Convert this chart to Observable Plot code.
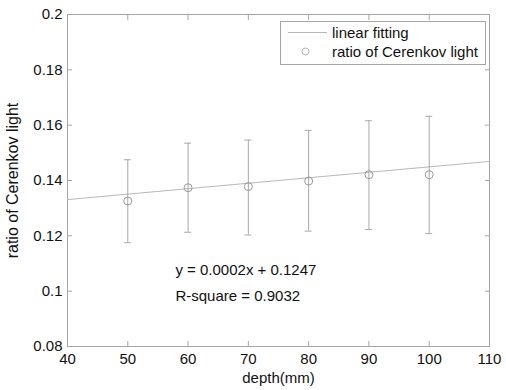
<!DOCTYPE html>
<html>
<head>
<meta charset="utf-8">
<script src="https://cdn.jsdelivr.net/npm/d3@7"></script>
<script src="https://cdn.jsdelivr.net/npm/@observablehq/plot@0.6"></script>
<style>
  html, body { margin: 0; padding: 0; background: #fff; }
  #wrap { position: relative; width: 506px; height: 390px; }
  #legend { position: absolute; left: 0; top: 0; pointer-events: none; }
</style>
</head>
<body>
<div id="wrap"></div>
<script>
// data
const depth = [50, 60, 70, 80, 90, 100];
const ratio = [0.1326, 0.1374, 0.1378, 0.1398, 0.1421, 0.1421];
const errLow = [0.1175, 0.1213, 0.1203, 0.1217, 0.1223, 0.1208];
const errHigh = [0.1475, 0.1535, 0.1546, 0.1581, 0.1616, 0.1632];
const fitX = [40, 110];
const fitY = [0.1331, 0.1469];
const xTicks = [40, 50, 60, 70, 80, 90, 100, 110];
const yTicks = [0.08, 0.1, 0.12, 0.14, 0.16, 0.18, 0.2];
const annX = [57.9, 57.9];
const annY = [0.1075, 0.0981];
const annText = ["y = 0.0002x + 0.1247", "R-square = 0.9032"];
const yLabel = ["ratio of Cerenkov light"];

const points = depth.map((x, i) => ({x, y: ratio[i], lo: errLow[i], hi: errHigh[i]}));
const fit = fitX.map((x, i) => ({x, y: fitY[i]}));
const ann = annText.map((t, i) => ({x: annX[i], y: annY[i], t}));

const axisGray = "#a6a6a6";
const fmt = d3.format("~g");

const chart = Plot.plot({
  width: 506,
  height: 390,
  marginLeft: 67,
  marginRight: 17,
  marginTop: 14,
  marginBottom: 44,
  style: {fontFamily: "'Liberation Sans', Arial, sans-serif", fontSize: "15px", color: "#111", background: "#fff"},
  x: {domain: [40, 110]},
  y: {domain: [0.08, 0.2]},
  marks: [
    Plot.frame({stroke: axisGray}),
    Plot.axisX(xTicks, {anchor: "bottom", tickSize: -5, tickPadding: 12, stroke: axisGray, fill: "#111",
      label: "depth(mm)", labelAnchor: "center", labelArrow: "none", labelOffset: 36}),
    Plot.axisX(xTicks, {anchor: "top", tickSize: -5, stroke: axisGray, tickFormat: () => "", label: null}),
    Plot.axisY(yTicks, {anchor: "left", tickSize: -5, tickPadding: 10, stroke: axisGray, fill: "#111", tickFormat: fmt,
      label: null}),
    Plot.axisY(yTicks, {anchor: "right", tickSize: -5, stroke: axisGray, tickFormat: () => "", label: null}),
    Plot.text(yLabel, {text: d => d, frameAnchor: "left", rotate: -90, dx: -55, fontSize: 16, fill: "#111", textAnchor: "middle"}),
    Plot.line(fit, {x: "x", y: "y", stroke: "#b8b8b8", strokeWidth: 1}),
    Plot.ruleX(points, {x: "x", y1: "lo", y2: "hi", stroke: "#a8a8a8", strokeWidth: 1}),
    Plot.ruleY(points, {y: "hi", x1: "x", x2: "x", insetLeft: -3.5, insetRight: -3.5, stroke: "#a8a8a8"}),
    Plot.ruleY(points, {y: "lo", x1: "x", x2: "x", insetLeft: -3.5, insetRight: -3.5, stroke: "#a8a8a8"}),
    Plot.dot(points, {x: "x", y: "y", r: 4, stroke: "#9a9a9a", fill: "none", strokeWidth: 1}),
    Plot.text(ann, {x: "x", y: "y", text: "t", textAnchor: "start", lineAnchor: "middle", fill: "#111"})
  ]
});
document.getElementById("wrap").appendChild(chart);

// legend
const ns = "http://www.w3.org/2000/svg";
const lg = document.createElementNS(ns, "svg");
lg.setAttribute("id", "legend");
lg.setAttribute("width", 506);
lg.setAttribute("height", 390);
lg.innerHTML = `
  <rect x="280.5" y="21.5" width="205" height="43" fill="#fff" stroke="${axisGray}"/>
  <line x1="288" x2="327" y1="32.5" y2="32.5" stroke="#b8b8b8"/>
  <circle cx="305.5" cy="51.5" r="3.5" fill="none" stroke="#b0b0b0"/>
  <text x="332" y="33" dy="0.35em" font-family="'Liberation Sans', Arial, sans-serif" font-size="15" fill="#111">linear fitting</text>
  <text x="332" y="52" dy="0.35em" font-family="'Liberation Sans', Arial, sans-serif" font-size="15" fill="#111">ratio of Cerenkov light</text>`;
document.getElementById("wrap").appendChild(lg);
</script>
</body>
</html>
